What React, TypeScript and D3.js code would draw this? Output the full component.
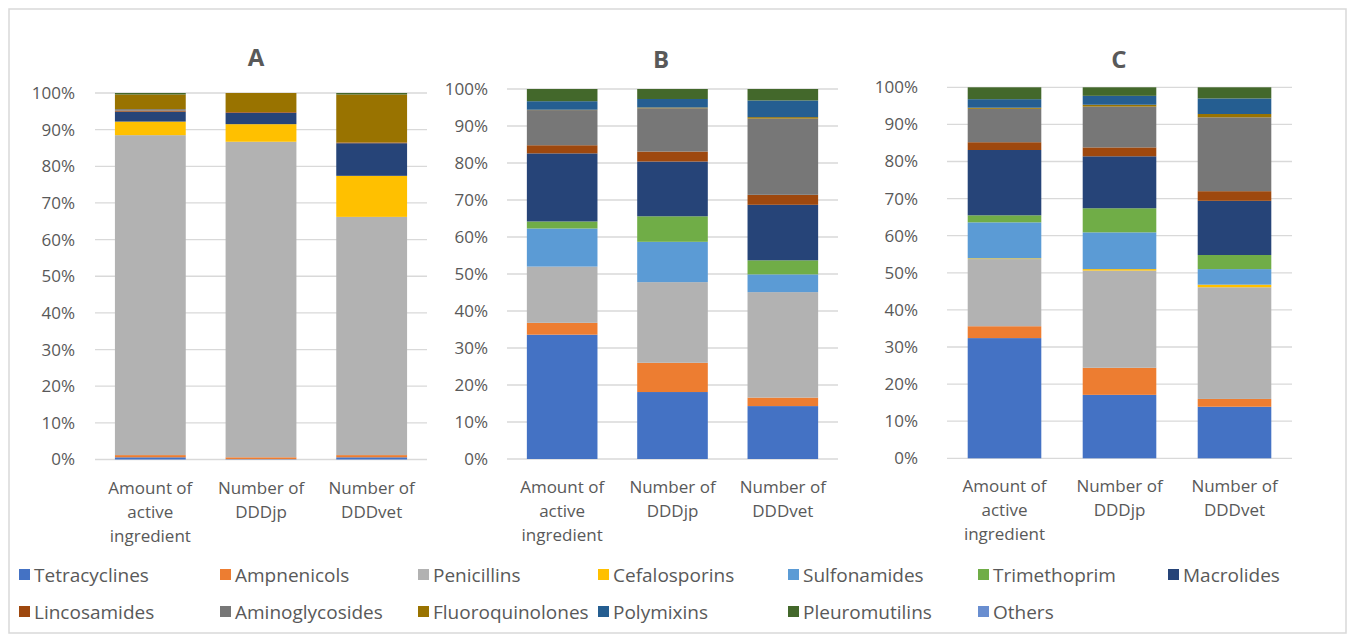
import React from 'react';
import * as d3 from 'd3';

// series in stacking order (bottom -> top)
const seriesNames = [
  'Tetracyclines', 'Ampnenicols', 'Penicillins', 'Cefalosporins', 'Sulfonamides',
  'Trimethoprim', 'Macrolides', 'Lincosamides', 'Aminoglycosides', 'Fluoroquinolones',
  'Polymixins', 'Pleuromutilins', 'Others',
];
const seriesColors = [
  '#4472C4', '#ED7D31', '#B2B2B2', '#FFC000', '#5B9BD5',
  '#70AD47', '#264478', '#9E480E', '#777777', '#997300',
  '#255E91', '#43682B', '#698ED0',
];

const categories = ['Amount of active ingredient', 'Number of DDDjp', 'Number of DDDvet'];
const categoryLines = [['Amount of', 'active', 'ingredient'], ['Number of', 'DDDjp'], ['Number of', 'DDDvet']];
const yTicks = [0, 10, 20, 30, 40, 50, 60, 70, 80, 90, 100];

// % share per category, one value per series (same order as seriesNames)
const valuesA = [
  [0.6, 0.6, 87.3, 3.7, 0, 0, 2.7, 0.3, 0.4, 4.0, 0, 0.4, 0],
  [0.1, 0.5, 86.1, 4.8, 0, 0, 3.1, 0.2, 0, 5.2, 0, 0, 0],
  [0.6, 0.6, 65.0, 11.2, 0, 0, 8.9, 0.2, 0, 13.1, 0, 0.4, 0],
];
const valuesB = [
  [33.6, 3.2, 15.2, 0, 10.3, 1.9, 18.4, 2.2, 9.5, 0.1, 2.3, 3.3, 0],
  [18.1, 7.9, 21.8, 0, 10.9, 6.9, 14.8, 2.7, 11.7, 0.2, 2.3, 2.7, 0],
  [14.3, 2.3, 28.5, 0, 4.8, 3.8, 15.0, 2.7, 20.6, 0.4, 4.5, 3.1, 0],
];
const valuesC = [
  [32.4, 3.2, 18.1, 0.2, 9.7, 1.9, 17.6, 2.1, 9.0, 0.3, 2.3, 3.2, 0],
  [17.1, 7.3, 26.2, 0.4, 9.9, 6.5, 14.0, 2.4, 11.0, 0.5, 2.4, 2.3, 0],
  [13.9, 2.1, 30.1, 0.7, 4.2, 3.8, 14.6, 2.6, 19.9, 0.9, 4.2, 3.0, 0],
];

const FONT = "'Open Sans', 'Liberation Sans', sans-serif";
const TEXT = '#595959';
const GRID = '#D9D9D9';

const panels = [
  { title: 'A', values: valuesA, x0: 95, x1: 427, yBottom: 459.5, yTop: 93, labelX: 75, titleX: 256, titleY: 66 },
  { title: 'B', values: valuesB, x0: 507, x1: 838, yBottom: 459, yTop: 89, labelX: 488, titleX: 661, titleY: 68 },
  { title: 'C', values: valuesC, x0: 947, x1: 1292, yBottom: 458.3, yTop: 87.3, labelX: 918, titleX: 1119, titleY: 68 },
];

const legendCols = [19, 220, 418, 598, 788, 978, 1168];
const legendRows = [575, 612];

function Panel({ p }: { p: typeof panels[number] }) {
  const x = d3.scaleBand<string>().domain(categories).range([p.x0, p.x1]).paddingInner(0.36).paddingOuter(0.18);
  const y = d3.scaleLinear().domain([0, 100]).range([p.yBottom, p.yTop]);
  const rows = categories.map((c, i) => {
    const r: any = { category: c };
    seriesNames.forEach((s, j) => { r[s] = p.values[i][j]; });
    return r;
  });
  const stacked = d3.stack<any>().keys(seriesNames)(rows);

  return (
    <g>
      <text x={p.titleX} y={p.titleY} textAnchor="middle" fontSize={24} fontWeight="bold" fill={TEXT}>{p.title}</text>
      {yTicks.map(t => (
        <g key={t}>
          <line x1={p.x0} x2={p.x1} y1={y(t)} y2={y(t)} stroke={GRID} strokeWidth={1.3} />
          <text x={p.labelX} y={y(t)} dy="0.35em" textAnchor="end" fontSize={17} fill={TEXT}>{t}%</text>
        </g>
      ))}
      {stacked.map((layer, si) => (
        <g key={layer.key} fill={seriesColors[si]}>
          {layer.map((d, ci) => {
            const h = y(d[0]) - y(d[1]);
            if (h <= 0) return null;
            return <rect key={ci} x={x(categories[ci])} width={x.bandwidth()} y={y(d[1])} height={h} />;
          })}
        </g>
      ))}
      {categories.map((c, ci) => (
        <text key={c} x={(x(c) ?? 0) + x.bandwidth() / 2} textAnchor="middle" fontSize={17} fill={TEXT}>
          {categoryLines[ci].map((ln, li) => (
            <tspan key={li} x={(x(c) ?? 0) + x.bandwidth() / 2} y={p.yBottom + 34 + li * 24}>{ln}</tspan>
          ))}
        </text>
      ))}
    </g>
  );
}

export default function App() {
  return (
    <svg width={1351} height={635} style={{ position: 'absolute', left: 0, top: 0, background: '#fff' }} fontFamily={FONT}>
      <rect x={9} y={9} width={1337} height={624} fill="#fff" stroke={GRID} strokeWidth={1.5} />
      {panels.map(p => <Panel key={p.title} p={p} />)}
      {seriesNames.map((s, i) => {
        const col = i % 7;
        const row = Math.floor(i / 7);
        const lx = legendCols[col];
        const ly = legendRows[row];
        return (
          <g key={s}>
            <rect x={lx} y={ly - 6} width={11} height={11} fill={seriesColors[i]} />
            <text x={lx + 15} y={ly} dy="0.35em" fontSize={19} fill={TEXT}>{s}</text>
          </g>
        );
      })}
    </svg>
  );
}
